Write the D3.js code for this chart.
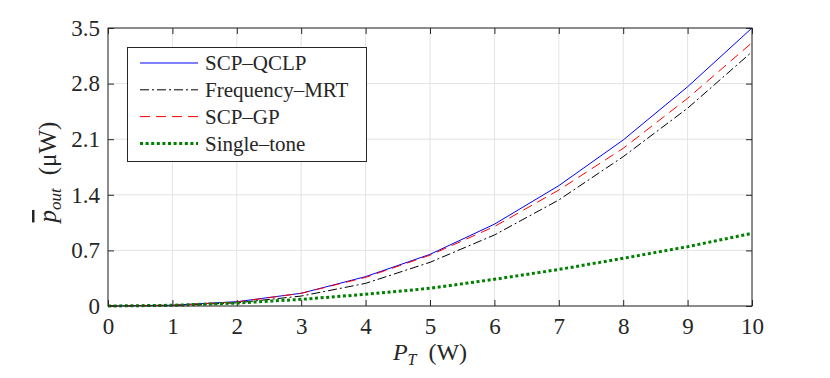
<!DOCTYPE html>
<html>
<head>
<meta charset="utf-8">
<script src="https://cdn.jsdelivr.net/npm/d3@7"></script>
<style>
  body { margin: 0; background: #fff; }
  text { font-family: "Liberation Serif", "DejaVu Serif", serif; fill: #262626; }
</style>
</head>
<body>
<svg id="chart" width="830" height="378"></svg>
<script>
// transmit power (W)
var power = [0, 1, 2, 3, 4, 5, 6, 7, 8, 9, 10];

// average output power (uW)
var scpQclp   = [0, 0.01, 0.054, 0.16, 0.37, 0.65, 1.03, 1.515, 2.09, 2.76, 3.5];
var freqMrt   = [0, 0.005, 0.04, 0.125, 0.285, 0.55, 0.894, 1.335, 1.88, 2.49, 3.2];
var scpGp     = [0, 0.01, 0.05, 0.16, 0.36, 0.64, 1.0, 1.46, 1.985, 2.615, 3.315];
var singleTone = [0, 0.009, 0.037, 0.084, 0.147, 0.223, 0.336, 0.46, 0.6, 0.747, 0.915];

var xTicks = [0, 1, 2, 3, 4, 5, 6, 7, 8, 9, 10];
var yTicks = [0, 0.7, 1.4, 2.1, 2.8, 3.5];

var seriesNames = ["SCP\u2013QCLP", "Frequency\u2013MRT", "SCP\u2013GP", "Single\u2013tone"];

var series = [
  {name: seriesNames[0], values: scpQclp, color: "#0000ff", width: 1, dash: null},
  {name: seriesNames[1], values: freqMrt, color: "#000000", width: 1, dash: "9,3,2,3"},
  {name: seriesNames[2], values: scpGp, color: "#ff0000", width: 1, dash: "10,6"},
  {name: seriesNames[3], values: singleTone, color: "#008000", width: 3, dash: "3,2.6"}
];

var svg = d3.select("#chart");
// plot box (don't call these top/left: window.top is read-only)
var pL = 108, pR = 752, pT = 28, pB = 306;

var x = d3.scaleLinear().domain([0, 10]).range([pL, pR]);
var y = d3.scaleLinear().domain([0, 3.5]).range([pB, pT]);

// grid
svg.append("g")
  .selectAll("line").data(xTicks).enter().append("line")
  .attr("x1", d => x(d)).attr("x2", d => x(d))
  .attr("y1", pT).attr("y2", pB)
  .attr("stroke", "#e3e3e3").attr("stroke-width", 1);
svg.append("g")
  .selectAll("line").data(yTicks).enter().append("line")
  .attr("y1", d => y(d)).attr("y2", d => y(d))
  .attr("x1", pL).attr("x2", pR)
  .attr("stroke", "#e3e3e3").attr("stroke-width", 1);

// axes (ticks inside, box on all sides)
var tickLen = 6;
var xAxis = d3.axisBottom(x).tickValues(xTicks).tickSizeInner(-tickLen).tickSizeOuter(0).tickPadding(12);
var yAxis = d3.axisLeft(y).tickValues(yTicks).tickSizeInner(-tickLen).tickSizeOuter(0).tickPadding(8)
  .tickFormat(d => d === 0 ? "0" : d3.format(".1f")(d));

var gx = svg.append("g").attr("transform", "translate(0," + pB + ")").call(xAxis);
var gy = svg.append("g").attr("transform", "translate(" + pL + ",0)").call(yAxis);
var gxt = svg.append("g").attr("transform", "translate(0," + pT + ")")
  .call(d3.axisTop(x).tickValues(xTicks).tickSizeInner(-tickLen).tickSizeOuter(0).tickFormat(""));
var gyr = svg.append("g").attr("transform", "translate(" + pR + ",0)")
  .call(d3.axisRight(y).tickValues(yTicks).tickSizeInner(-tickLen).tickSizeOuter(0).tickFormat(""));

[gx, gy, gxt, gyr].forEach(function(g) {
  g.select(".domain").remove();
  g.selectAll(".tick line").attr("stroke", "#262626");
  g.selectAll(".tick text").style("font-size", "23px").attr("fill", "#262626")
    .style("font-family", "'Liberation Serif', serif");
});

// data lines
var line = d3.line().x((d, i) => x(power[i])).y(d => y(d));
svg.append("g").selectAll("path").data(series).enter().append("path")
  .attr("d", d => line(d.values))
  .attr("fill", "none")
  .attr("stroke", d => d.color)
  .attr("stroke-width", d => d.width)
  .attr("stroke-dasharray", d => d.dash);

// frame
svg.append("rect")
  .attr("x", pL).attr("y", pT)
  .attr("width", pR - pL).attr("height", pB - pT)
  .attr("fill", "none").attr("stroke", "#262626").attr("stroke-width", 1);

// legend
var lg = svg.append("g");
lg.append("rect")
  .attr("x", 127.5).attr("y", 47.5).attr("width", 239).attr("height", 114)
  .attr("fill", "#fff").attr("stroke", "#262626").attr("stroke-width", 1);
var items = lg.selectAll("g").data(series).enter().append("g")
  .attr("transform", (d, i) => "translate(0," + (63 + i * 26.8) + ")");
items.append("line")
  .attr("x1", 140).attr("x2", 198).attr("y1", 0).attr("y2", 0)
  .attr("stroke", d => d.color)
  .attr("stroke-width", d => d.width)
  .attr("stroke-dasharray", d => d.dash);
items.append("text")
  .attr("x", 205).attr("y", 0).attr("dy", "0.35em")
  .style("font-size", "21px")
  .text(d => d.name);

// axis labels
var xl = svg.append("text")
  .attr("x", 430).attr("y", 360)
  .attr("text-anchor", "middle")
  .style("font-size", "24px");
xl.append("tspan").attr("font-style", "italic").text("P");
xl.append("tspan").attr("font-style", "italic").style("font-size", "16px").attr("dy", 5).text("T");
xl.append("tspan").attr("dy", -5).attr("dx", 12).text("(W)");

var yl = svg.append("text")
  .attr("transform", "translate(56,172) rotate(-90)")
  .attr("text-anchor", "middle")
  .style("font-size", "25px");
yl.append("tspan").attr("font-style", "italic").style("text-decoration", "overline").text("p");
yl.append("tspan").attr("font-style", "italic").style("font-size", "17px").attr("dy", 5).text("out");
yl.append("tspan").attr("dy", -5).attr("dx", 13).text("(\u03bcW)");
</script>
</body>
</html>
